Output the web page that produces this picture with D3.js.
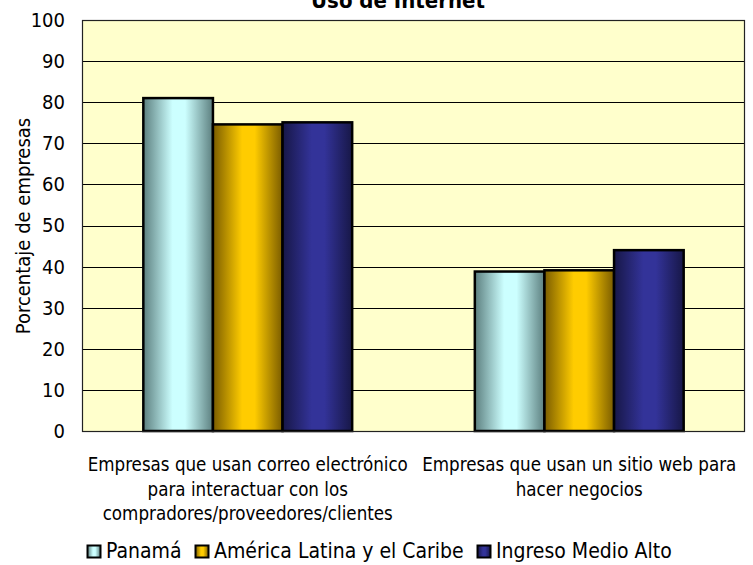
<!DOCTYPE html>
<html>
<head>
<meta charset="utf-8">
<script src="https://cdn.jsdelivr.net/npm/d3@7"></script>
<style>
  html, body { margin: 0; padding: 0; background: #ffffff; }
  svg { display: block; font-family: "DejaVu Sans Condensed", "DejaVu Sans", sans-serif; }
</style>
</head>
<body>
<svg id="chart" width="753" height="565"></svg>
<script>
// Uso de Internet — share of firms (%)
const categories = [
  ["Empresas que usan correo electrónico", "para interactuar con los", "compradores/proveedores/clientes"],
  ["Empresas que usan un sitio web para", "hacer negocios"]
];
const seriesNames = ["Panamá", "América Latina y el Caribe", "Ingreso Medio Alto"];
const panama = [81.0, 38.8];
const americaLatina = [74.6, 39.1];
const ingresoMedioAlto = [75.1, 44.0];
const yTicks = [0, 10, 20, 30, 40, 50, 60, 70, 80, 90, 100];

const seriesValues = [panama, americaLatina, ingresoMedioAlto];
const palette = [
  { edge: "#5c7f7f", mid: "#ccffff" },
  { edge: "#7a5c00", mid: "#ffcc00" },
  { edge: "#171747", mid: "#333399" }
];

const svg = d3.select("#chart");
const margin = { left: 82, right: 8, top: 20, bottom: 134 };
const W = 753, H = 565;
const plotW = W - margin.left - margin.right;
const plotH = H - margin.top - margin.bottom;

const defs = svg.append("defs");
palette.forEach((c, i) => {
  const g = defs.append("linearGradient").attr("id", "grad" + i)
    .attr("x1", "0%").attr("x2", "100%").attr("y1", "0%").attr("y2", "0%");
  g.append("stop").attr("offset", "0%").attr("stop-color", c.edge);
  g.append("stop").attr("offset", "42%").attr("stop-color", c.mid);
  g.append("stop").attr("offset", "60%").attr("stop-color", c.mid);
  g.append("stop").attr("offset", "100%").attr("stop-color", c.edge);
});

const pad = 0.37;
const x0 = d3.scaleBand().domain(d3.range(categories.length))
  .range([0, plotW]).paddingInner(pad).paddingOuter(pad / 2);
const x1 = d3.scaleBand().domain(d3.range(seriesNames.length))
  .range([0, x0.bandwidth()]);
const y = d3.scaleLinear().domain([0, 100]).range([plotH, 0]);

const plot = svg.append("g").attr("transform", `translate(${margin.left},${margin.top})`);

plot.append("rect").attr("width", plotW).attr("height", plotH).attr("fill", "#ffffcc");

// gridlines
plot.append("g").selectAll("line").data(yTicks.filter(t => t > 0 && t < 100)).join("line")
  .attr("x1", 0).attr("x2", plotW)
  .attr("y1", d => Math.round(y(d)) + 0.5).attr("y2", d => Math.round(y(d)) + 0.5)
  .attr("stroke", "#000").attr("stroke-width", 1);

// bars
categories.forEach((cat, ci) => {
  const g = plot.append("g").attr("transform", `translate(${x0(ci)},0)`);
  seriesValues.forEach((vals, si) => {
    g.append("rect")
      .attr("x", x1(si)).attr("width", x1.bandwidth())
      .attr("y", y(vals[ci])).attr("height", plotH - y(vals[ci]))
      .attr("fill", `url(#grad${si})`)
      .attr("stroke", "#000").attr("stroke-width", 2.5);
  });
});

// plot frame
plot.append("rect").attr("x", 0.5).attr("y", 0.5).attr("width", plotW - 1).attr("height", plotH)
  .attr("fill", "none").attr("stroke", "#222").attr("stroke-width", 1.2);

// y axis
const yAxis = d3.axisLeft(y).tickValues(yTicks).tickSize(0).tickPadding(17).tickFormat(d3.format("d"));
const ya = plot.append("g").call(yAxis);
ya.select(".domain").remove();
ya.selectAll("text").attr("font-size", 20).attr("fill", "#000")
  .attr("font-family", "DejaVu Sans Condensed, DejaVu Sans, sans-serif");

// y axis title
svg.append("text")
  .attr("transform", `translate(30,${226}) rotate(-90)`)
  .attr("text-anchor", "middle").attr("font-size", 20).attr("fill", "#000")
  .text("Porcentaje de empresas");

// chart title (sits partly above the top edge)
svg.append("text").attr("x", 398).attr("y", 7.5).attr("text-anchor", "middle")
  .attr("font-size", 22).attr("font-weight", "bold").attr("fill", "#000")
  .text("Uso de Internet");

// category labels
categories.forEach((lines, ci) => {
  const cx = margin.left + x0(ci) + x0.bandwidth() / 2;
  const t = svg.append("text").attr("text-anchor", "middle").attr("font-size", 18.6).attr("fill", "#000");
  lines.forEach((ln, li) => {
    t.append("tspan").attr("x", cx).attr("y", 471 + li * 24.5).text(ln);
  });
});

// legend
const legendX = [87, 195, 477];
const legend = svg.append("g");
seriesNames.forEach((name, si) => {
  legend.append("rect").attr("x", legendX[si] + 0.5).attr("y", 545.5).attr("width", 13).attr("height", 12)
    .attr("fill", `url(#grad${si})`).attr("stroke", "#000").attr("stroke-width", 2);
  legend.append("text").attr("x", legendX[si] + 19).attr("y", 558)
    .attr("font-size", 21).attr("fill", "#000").text(name);
});
</script>
</body>
</html>
